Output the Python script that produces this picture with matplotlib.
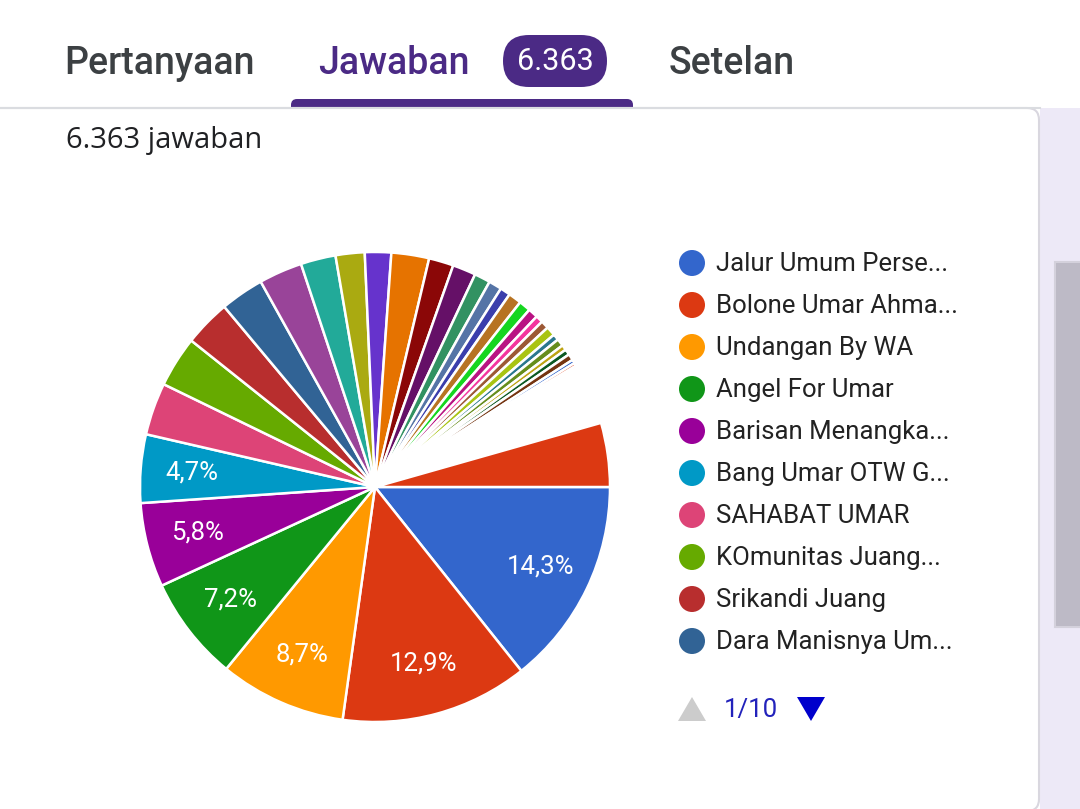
import matplotlib
matplotlib.use("Agg")
import matplotlib.pyplot as plt
from matplotlib.patches import FancyBboxPatch, Rectangle, Circle, Polygon

plt.rcParams['font.family'] = ['Roboto', 'DejaVu Sans']

# responses per option (total 6.363), in the order Google draws them
counts = [910, 821, 554, 458, 369, 299, 229, 223, 204, 191, 190, 153, 127, 115,
          165, 108, 102, 70, 57, 45, 57, 51, 43, 32, 35, 41, 27, 32, 23, 25, 28,
          16, 13, 11, 9, 8,
          7, 7, 6, 6, 6, 6, 5, 5, 5, 5, 5, 5, 5, 5, 5, 5, 5, 5,
          4, 4, 4, 4, 4, 4, 4, 4, 4, 4, 4, 4, 4, 4, 4, 4,
          4, 4, 4, 4, 4, 4, 4, 4, 4, 4, 4, 4, 4, 4, 4, 4,
          3, 3, 2, 2, 2, 2, 1, 1,
          280]

legend_names = ["Jalur Umum Perse...", "Bolone Umar Ahma...", "Undangan By WA",
                "Angel For Umar", "Barisan Menangka...", "Bang Umar OTW G...",
                "SAHABAT UMAR", "KOmunitas Juang...", "Srikandi Juang",
                "Dara Manisnya Um..."]

total_text = "6.363"
page_text = "1/10"

google = ['#3366cc', '#dc3912', '#ff9900', '#109618', '#990099', '#0099c6',
          '#dd4477', '#66aa00', '#b82e2e', '#316395', '#994499', '#22aa99',
          '#aaaa11', '#6633cc', '#e67300', '#8b0707', '#651067', '#329262',
          '#5574a6', '#3b3eac', '#b77322', '#16d620', '#b91383', '#f4359e',
          '#9c5935', '#a9c413', '#2a778d', '#668d1c', '#bea413', '#0c5922',
          '#743411']
colors = [google[i % len(google)] for i in range(len(counts))]

purple = '#4b2a85'

fig = plt.figure(figsize=(10.8, 8.09), dpi=100)
fig.patch.set_facecolor('white')

# page chrome in pixel coordinates
bg = fig.add_axes([0, 0, 1, 1])
bg.set_xlim(0, 1080)
bg.set_ylim(809, 0)
bg.axis('off')

bg.add_patch(Rectangle((1040, 108), 40, 701, fc='#ede9f7', ec='none', zorder=1))
bg.add_patch(Rectangle((1055, 262), 30, 365, fc='#bdbac6', ec='#d4d1dc', lw=1.5, zorder=2))
bg.add_patch(FancyBboxPatch((291, 99), 342, 16, boxstyle='round,pad=0,rounding_size=6',
                            fc=purple, ec='none', zorder=1))
bg.add_patch(FancyBboxPatch((-20, 108), 1059, 703, boxstyle='round,pad=0,rounding_size=12',
                            fc='white', ec='#d9d7df', lw=1.5, zorder=2))
bg.plot([0, 1040], [108, 108], color='#dadce0', lw=1.5, zorder=3)

bg.text(64, 73.5, 'Pertanyaan', fontsize=27, color='#3c4043', va='baseline',
        fontweight='medium')
bg.text(318, 73.5, 'Jawaban', fontsize=27, color=purple, va='baseline',
        fontweight='medium')
bg.add_patch(FancyBboxPatch((503, 35), 104, 52, boxstyle='round,pad=0,rounding_size=26',
                            fc=purple, ec='none'))
bg.text(555, 61, total_text, fontsize=22, color='white', va='center', ha='center')
bg.text(669, 73.5, 'Setelan', fontsize=27, color='#3c4043', va='baseline',
        fontweight='medium')

bg.text(66, 148, total_text + ' jawaban', fontsize=21, color='#202124', va='baseline',
        zorder=4, family=['Open Sans', 'DejaVu Sans'])

# legend (first page)
for i, name in enumerate(legend_names):
    y = 263 + 42 * i
    bg.add_patch(Circle((692, y), 13, fc=colors[i], ec='none', zorder=4))
    bg.text(716, y + 1, name, fontsize=18.5, color='#222222', va='center', zorder=4)

bg.add_patch(Polygon([(678, 721), (706, 721), (692, 697)], closed=True,
                     fc='#cccccc', ec='none', zorder=4))
bg.text(724, 710, page_text, fontsize=18.5, color='#2222bb', va='center', zorder=4)
bg.add_patch(Polygon([(797, 697), (825, 697), (811, 721)], closed=True,
                     fc='#0000cc', ec='none', zorder=4))

# pie
ax = fig.add_axes([140 / 1080, 87 / 809, 470 / 1080, 470 / 809])
ax.set_zorder(5)
ax.patch.set_alpha(0)


def pct_label(p):
    if p < 4.5:
        return ''
    return ('%.1f' % p).replace('.', ',') + '%'


wedges, texts, autotexts = ax.pie(counts, colors=colors, startangle=0, counterclock=False,
                                  autopct=pct_label, pctdistance=0.78,
                                  wedgeprops=dict(edgecolor='white', linewidth=1.8),
                                  textprops=dict(color='white', fontsize=18.5))
ax.set_xlim(-1, 1)
ax.set_ylim(-1, 1)
ax.set_aspect('equal')
ax.axis('off')
for w in wedges:
    w.set_clip_on(False)

fig.savefig('out.png', dpi=100, facecolor='white')
